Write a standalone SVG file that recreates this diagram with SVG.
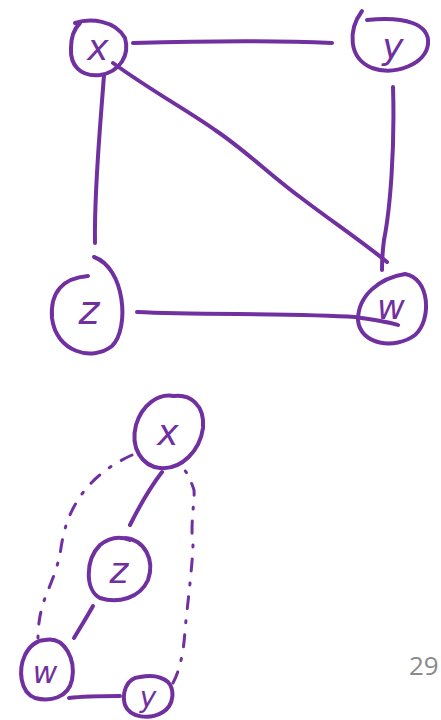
<svg xmlns="http://www.w3.org/2000/svg" width="441" height="720" viewBox="0 0 441 720">
<style>
.s{fill:none;stroke:#7030A0;stroke-width:4;stroke-linecap:round;stroke-linejoin:round}
.d{stroke-width:3;stroke-dasharray:12 12 2 12}
.t{fill:#7030A0;font-family:"DejaVu Sans",sans-serif;font-style:italic;text-anchor:middle;dominant-baseline:central}
.n{fill:#8a8a8a;font-family:"Open Sans",sans-serif;font-size:26px}
</style>
<rect width="441" height="720" fill="#fff"/>
<g id="edges" class="s">
<path d="M133,43 C200,41 270,40 332,43"/>
<path d="M104,75 C100,130 94,190 95,243"/>
<path d="M113,63 C150,90 190,112 215,130 C245,150 270,175 300,197 C330,220 360,240 387,262"/>
<path d="M393,87 C395,150 390,210 384,240 C382,255 382,262 382,270"/>
<path d="M137,312 C200,315 300,313 355,317 C375,320 390,322 398,325"/>
<path d="M130,525 C140,505 152,485 162,472"/>
<path d="M74,638 C80,628 88,615 93,606"/>
<path d="M69,698 C85,696 105,696 120,696"/>
<path class="d" d="M132,455 C110,465 90,480 78,500 C65,520 62,540 60,555 C55,575 50,585 45,598 C40,612 38,625 38,638"/>
<path class="d" d="M173,683 C180,670 184,650 185,630 C188,600 192,570 193,545 C190,525 195,500 194,490 C190,478 186,470 182,468"/>
</g>
<g id="n-x1"><path class="s" d="M75,23 C90,18 115,20 125,38 C130,55 120,72 100,75 C80,77 70,65 71,48 C71,35 76,27 80,23"/><text class="t" x="98" y="47" font-size="36">x</text></g>
<g id="n-y1"><path class="s" d="M362,11 C348,30 348,58 372,68 C395,76 426,64 428,44 C430,24 405,16 367,20"/><text class="t" x="393" y="46" font-size="36">y</text></g>
<g id="n-z1"><path class="s" d="M94,257 C125,268 130,328 112,346 C92,362 56,352 52,318 C50,292 63,278 88,276"/><text class="t" x="89" y="310" font-size="40">z</text></g>
<g id="n-w1"><path class="s" d="M405,274 C430,278 432,320 415,335 C395,350 360,345 358,320 C358,295 380,278 405,274"/><text class="t" x="391" y="307" font-size="34">w</text></g>
<g id="n-x2"><path class="s" d="M174,396 C158,393 142,405 136,425 C130,448 142,466 160,468 C182,470 200,450 203,428 C205,405 190,394 174,396"/><text class="t" x="168" y="432" font-size="36">x</text></g>
<g id="n-z2"><path class="s" d="M125,538 C145,540 155,560 148,580 C140,598 118,604 100,598 C85,590 85,560 100,545 C110,537 120,536 130,540"/><text class="t" x="119" y="570" font-size="36">z</text></g>
<g id="n-w2"><path class="s" d="M45,640 C65,636 76,660 72,680 C68,698 50,702 35,698 C20,692 18,670 25,655 C30,645 38,640 45,640"/><text class="t" x="45" y="672" font-size="30">w</text></g>
<g id="n-y2"><path class="s" d="M140,677 C125,678 122,695 125,705 C130,718 150,720 163,712 C174,705 175,690 168,682 C160,675 150,675 140,677"/><text class="t" x="148" y="697" font-size="28">y</text></g>
<text class="n" x="409" y="675">29</text>
</svg>
